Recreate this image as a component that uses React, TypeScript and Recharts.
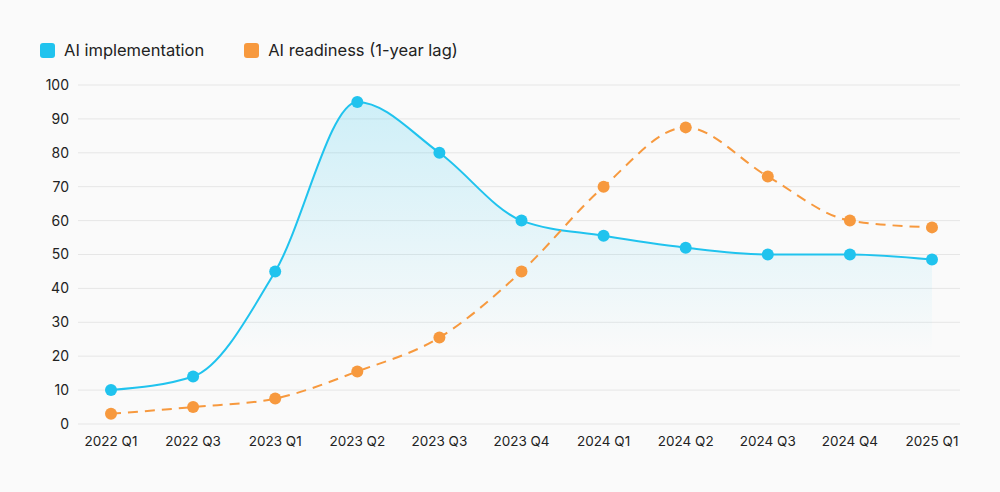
import React from "react";
import { ComposedChart, Area, Line, XAxis, YAxis, CartesianGrid } from "recharts";

const categories = ["2022 Q1", "2022 Q3", "2023 Q1", "2023 Q2", "2023 Q3", "2023 Q4", "2024 Q1", "2024 Q2", "2024 Q3", "2024 Q4", "2025 Q1"];
const implementation = [10, 14, 45, 95, 80, 60, 55.5, 52, 50, 50, 48.5];
const readiness = [3, 5, 7.5, 15.5, 25.5, 45, 70, 87.5, 73, 60, 58];
const yTicks = [0, 10, 20, 30, 40, 50, 60, 70, 80, 90, 100];
const seriesNames = ["AI implementation", "AI readiness (1-year lag)"];

const BLUE = "#20C3EE";
const ORANGE = "#F7993E";
const FONT = "Inter, 'Noto Sans', sans-serif";

const data = categories.map((c, i) => ({ cat: c, impl: implementation[i], ready: readiness[i] }));

export default function App() {
  return (
    <div style={{ position: "absolute", left: 0, top: 0, width: 1000, height: 492, background: "#fafafa", fontFamily: FONT }}>
      <div style={{ position: "absolute", left: 40, top: 40, display: "flex", alignItems: "center", fontSize: 16.5, color: "#222" }}>
        <span style={{ width: 15, height: 15, borderRadius: 3, background: BLUE, display: "inline-block", marginRight: 9 }} />
        <span style={{ marginRight: 40 }}>{seriesNames[0]}</span>
        <span style={{ width: 15, height: 15, borderRadius: 3, background: ORANGE, display: "inline-block", marginRight: 9 }} />
        <span>{seriesNames[1]}</span>
      </div>
      <ComposedChart width={1000} height={492} data={data} margin={{ top: 85, right: 40, bottom: 38, left: 0 }}>
        <defs>
          <linearGradient id="implFill" x1="0" y1="0" x2="0" y2="1">
            <stop offset="0%" stopColor={BLUE} stopOpacity={0.2} />
            <stop offset="40%" stopColor={BLUE} stopOpacity={0.1} />
            <stop offset="78%" stopColor={BLUE} stopOpacity={0} />
            <stop offset="100%" stopColor={BLUE} stopOpacity={0} />
          </linearGradient>
        </defs>
        <CartesianGrid vertical={false} stroke="#e6e6e6" />
        <XAxis
          dataKey="cat"
          axisLine={false}
          tickLine={false}
          padding={{ left: 33, right: 28 }}
          tick={{ fontSize: 13.5, fill: "#222", fontFamily: FONT }}
          tickMargin={6}
          height={30}
          interval={0}
        />
        <YAxis
          domain={[0, 100]}
          ticks={yTicks}
          axisLine={false}
          tickLine={false}
          width={78}
          tickMargin={3}
          tick={{ fontSize: 14, fill: "#222", fontFamily: FONT }}
        />
        <Area
          type="monotone"
          dataKey="impl"
          stroke={BLUE}
          strokeWidth={2}
          fill="url(#implFill)"
          fillOpacity={1}
          dot={{ r: 6, fill: BLUE, fillOpacity: 1, stroke: "none" }}
          activeDot={false}
          isAnimationActive={false}
        />
        <Line
          type="monotone"
          dataKey="ready"
          stroke={ORANGE}
          strokeWidth={2}
          strokeDasharray="10 7"
          dot={{ r: 6, fill: ORANGE, stroke: "none", strokeDasharray: "0" }}
          activeDot={false}
          isAnimationActive={false}
        />
      </ComposedChart>
    </div>
  );
}
